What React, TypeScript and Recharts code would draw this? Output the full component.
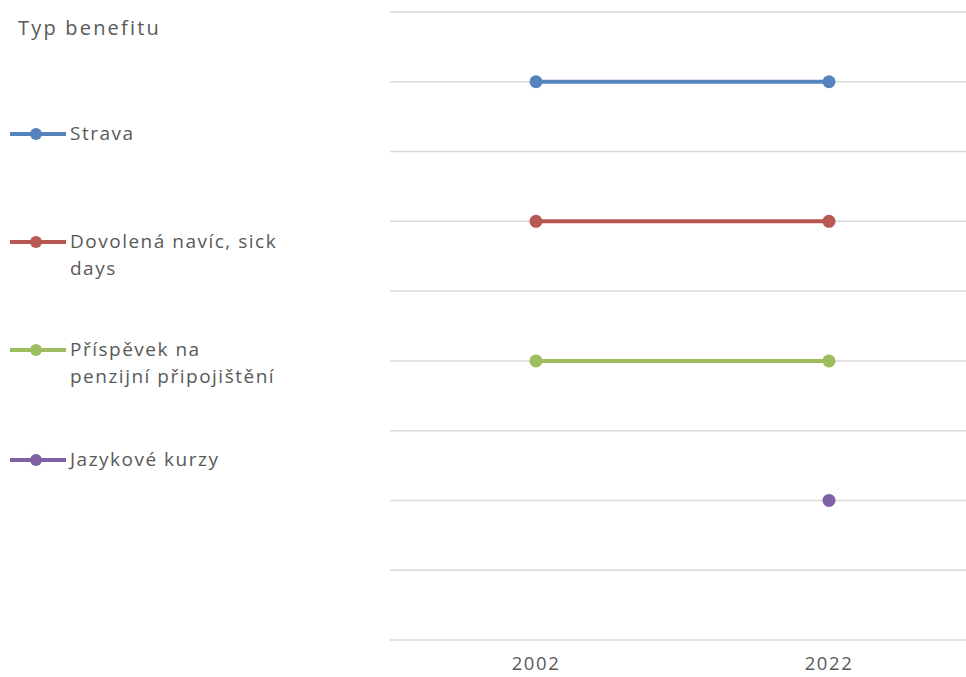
import { LineChart, Line, XAxis, YAxis, CartesianGrid } from "recharts";

// Benefit types by year (2002 vs 2022), one row per benefit on the y scale
const years = ["2002", "2022"];
const seriesKeys = ["strava", "dovolena", "prispevek", "jazykove"];
const seriesNames = [
  "Strava",
  "Dovolená navíc, sick days",
  "Příspěvek na penzijní připojištění",
  "Jazykové kurzy",
];
const seriesColors = ["#5682BE", "#B95753", "#9DBD5E", "#7E62A3"];
const stravaValues = [4, 4];
const dovolenaValues = [3, 3];
const prispevekValues = [2, 2];
const jazykoveValues = [null, 1];
const yTicks = [0, 0.5, 1, 1.5, 2, 2.5, 3, 3.5, 4, 4.5];

const data = years.map((year, i) => ({
  year,
  strava: stravaValues[i],
  dovolena: dovolenaValues[i],
  prispevek: prispevekValues[i],
  jazykove: jazykoveValues[i],
}));

const font = "'Open Sans', sans-serif";
const textColor = "#595959";

function BenefitLegend() {
  const tops = [120, 228, 336, 446];
  return (
    <div style={{ position: "absolute", left: 0, top: 0, fontFamily: font, color: textColor }}>
      <div style={{ position: "absolute", left: 18, top: 14, fontSize: 20, letterSpacing: 2.2, whiteSpace: "nowrap" }}>
        Typ benefitu
      </div>
      {seriesNames.map((name, i) => (
        <div key={name} style={{ position: "absolute", left: 8, top: tops[i], display: "flex", alignItems: "flex-start" }}>
          <svg width={62} height={27} style={{ flex: "none" }}>
            <line x1={2} y1={14} x2={58} y2={14} stroke={seriesColors[i]} strokeWidth={4} />
            <circle cx={28} cy={14} r={6} fill={seriesColors[i]} />
          </svg>
          <div style={{ fontSize: 19, lineHeight: "27px", letterSpacing: 1.5, width: 210 }}>{name}</div>
        </div>
      ))}
    </div>
  );
}

const NoTick = () => <g />;

export default function App() {
  return (
    <div style={{ position: "fixed", left: 0, top: 0, width: 966, height: 677, overflow: "hidden", background: "#fff" }}>
      <LineChart width={980} height={677} data={data} margin={{ top: 12, right: 5, left: 390, bottom: 0 }}>
        <CartesianGrid stroke="#D9D9D9" strokeWidth={1.5} vertical={false} />
        <XAxis
          dataKey="year"
          axisLine={false}
          tickLine={false}
          height={37}
          padding={{ left: 146, right: 146 }}
          tick={{ fill: textColor, fontSize: 18.5, fontFamily: font, letterSpacing: 1.6 }}
          tickMargin={11}
        />
        <YAxis domain={[0, 4.5]} ticks={yTicks} width={0} tick={NoTick} axisLine={false} tickLine={false} />
        {seriesKeys.map((key, i) => (
          <Line
            key={key}
            dataKey={key}
            name={seriesNames[i]}
            stroke={seriesColors[i]}
            strokeWidth={4}
            dot={{ r: 6.5, fill: seriesColors[i], stroke: "none" }}
            activeDot={false}
            isAnimationActive={false}
          />
        ))}
      </LineChart>
      <BenefitLegend />
    </div>
  );
}
